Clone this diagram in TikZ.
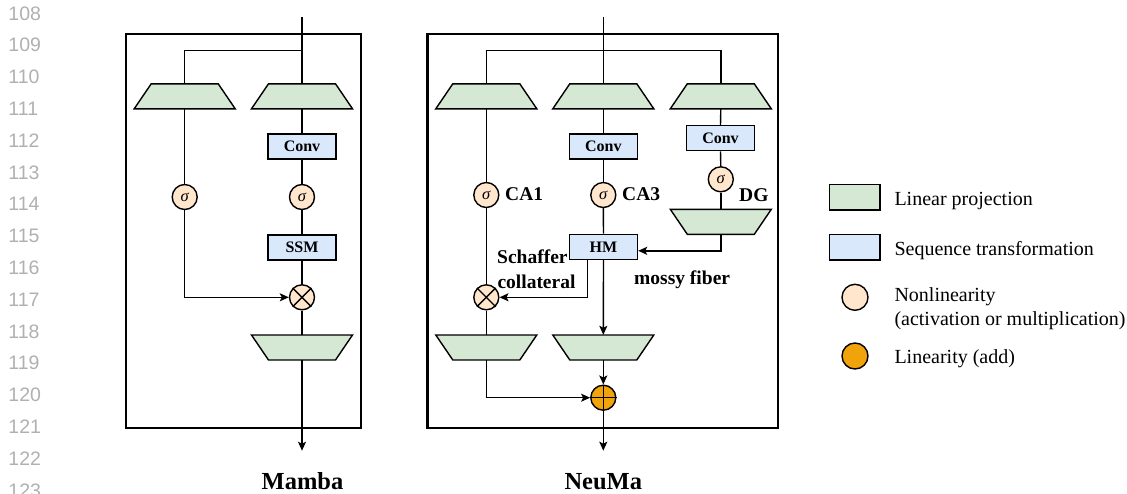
\documentclass[tikz,border=0pt]{standalone}
\usepackage{fontspec}
\setmainfont{Liberation Serif}
\newfontfamily\numfont{Liberation Sans}
\usetikzlibrary{arrows.meta,calc}
\definecolor{lingreen}{HTML}{D5E8D4}
\definecolor{seqblue}{HTML}{DAE8FC}
\definecolor{nlpeach}{HTML}{FFE6CC}
\definecolor{addorange}{HTML}{F0A30A}
\definecolor{numgray}{HTML}{B0B0B0}
\tikzset{
  ln/.style={line width=1.4pt},
  arr/.style={line width=1.4pt,-{Stealth[length=9pt,width=8pt,inset=2pt]}},
  frame/.style={line width=2.6pt},
  trap/.style={fill=lingreen,draw=black,line width=1.4pt,line join=miter},
  anchorbox/.style={rectangle,draw=none,minimum width=67pt,minimum height=25pt,inner sep=0pt},
  sbox/.style={rectangle,draw,fill=seqblue,line width=1.4pt,minimum width=68pt,minimum height=25pt,inner sep=0pt,font=\bfseries\fontsize{16}{16}\selectfont},
  nl/.style={circle,draw,fill=nlpeach,line width=1.4pt,minimum size=25pt,inner sep=0pt,font=\itshape\fontsize{16.5}{16.5}\selectfont},
  addc/.style={circle,draw,fill=addorange,line width=1.4pt,minimum size=25pt,inner sep=0pt},
  lbl/.style={inner sep=0pt,font=\bfseries\fontsize{19.5}{22}\selectfont},
  title/.style={inner sep=0pt,font=\bfseries\fontsize{24.5}{28}\selectfont},
  legtxt/.style={inner sep=0pt,anchor=base west,font=\fontsize{20}{24}\selectfont},
  linenum/.style={inner sep=0pt,anchor=base west,text=numgray,font=\numfont\fontsize{19.5}{22}\selectfont},
}
% wide-bottom trapezoid: name, x, y
\newcommand{\trapup}[3]{%
  \filldraw[trap] (#2-33.5,#3-12.5) -- (#2+33.5,#3-12.5) -- (#2+50.5,#3+12.5) -- (#2-50.5,#3+12.5) -- cycle;
  \node[anchorbox] (#1) at (#2,#3) {};}
% wide-top trapezoid
\newcommand{\trapdown}[3]{%
  \filldraw[trap] (#2-50.5,#3-12.5) -- (#2+50.5,#3-12.5) -- (#2+33.5,#3+12.5) -- (#2-33.5,#3+12.5) -- cycle;
  \node[anchorbox] (#1) at (#2,#3) {};}
\begin{document}
\begin{tikzpicture}[x=1pt,y=-1pt]
\useasboundingbox (0,0) rectangle (1127,493);
\clip (0,0) rectangle (1127,493);

% line numbers
\foreach \i [count=\k from 0] in {108,...,123}{
  \node[linenum] (num\i) at (8.3,20+31.8*\k) {\i};
}

% ---------------- Mamba ----------------
\draw[frame] (126,34) rectangle (361,428);
\coordinate (mIn) at (302,17);
\coordinate (mSplit) at (302,50.7);
\coordinate (mOut) at (302,450.7);
\trapup{mTL}{184.7}{96.3}
\trapup{mTR}{302}{96.3}
\node[sbox] (mConv) at (302,146.5) {Conv};
\node[nl] (mS1) at (184.7,197) {σ};
\node[nl] (mS2) at (302,197) {σ};
\node[sbox] (mSSM) at (302,247.5) {SSM};
\node[nl] (mOt) at (302,297.3) {};
\draw[ln] (mOt.north east) -- (mOt.south west) (mOt.north west) -- (mOt.south east);
\trapdown{mTB}{302}{347.5}

\draw[ln] (mIn) -- (mTR.north);
\draw[ln] (mSplit) -| (mTL.north);
\draw[ln] (mTR.south) -- (mConv.north);
\draw[ln] (mConv.south) -- (mS2.north);
\draw[ln] (mS2.south) -- (mSSM.north);
\draw[ln] (mSSM.south) -- (mOt.north);
\draw[ln] (mOt.south) -- (mTB.north);
\draw[arr] (mTB.south) -- (mOut);
\draw[ln] (mTL.south) -- (mS1.north);
\draw[arr] (mS1.south) |- (mOt.west);

\node[title,anchor=base] (mTitle) at (302.5,489.5) {Mamba};

% ---------------- NeuMa ----------------
\draw[frame] (427.5,34) rectangle (778,428);
\coordinate (nIn) at (603.3,17);
\coordinate (nSplit) at (603.3,50.7);
\coordinate (nOut) at (603.3,450.7);
\trapup{nTL}{486.3}{96.3}
\trapup{nTM}{603.3}{96.3}
\trapup{nTR}{720.8}{96.3}
\node[sbox] (nConv1) at (603.3,146.5) {Conv};
\node[sbox] (nConv2) at (720.5,138.2) {Conv};
\node[nl] (nS1) at (486.3,195) {σ};
\node[nl] (nS2) at (603.3,195) {σ};
\node[nl] (nS3) at (720.8,179.3) {σ};
\trapdown{nTD}{720.8}{221.8}
\node[sbox] (nHM) at (603.5,246.8) {HM};
\node[nl] (nOt) at (486.3,297.3) {};
\draw[ln] (nOt.north east) -- (nOt.south west) (nOt.north west) -- (nOt.south east);
\trapdown{nTBL}{486.3}{347.5}
\trapdown{nTBM}{603.3}{347.5}
\node[addc] (nOp) at (603.3,397.7) {};
\draw[ln] (nOp.north) -- (nOp.south) (nOp.west) -- (nOp.east);

\draw[ln] (nIn) -- (nTM.north);
\draw[ln] (nTL.north) |- (nSplit) -| (nTR.north);
\draw[ln] (nTM.south) -- (nConv1.north);
\draw[ln] (nConv1.south) -- (nS2.north);
\draw[ln] (nS2.south) -- (nHM.north);
\draw[arr] (nHM.south) -- (nTBM.north);
\draw[arr] (nTBM.south) -- (nOp.north);
\draw[arr] (nOp.south) -- (nOut);
\draw[ln] (nTL.south) -- (nS1.north);
\draw[ln] (nS1.south) -- (nOt.north);
\draw[ln] (nOt.south) -- (nTBL.north);
\draw[arr] (nTBL.south) |- (nOp.west);
\draw[ln] (nTR.south) -- (nConv2.north);
\draw[ln] (nConv2.south) -- (nS3.north);
\draw[ln] (nS3.south) -- (nTD.north);
\draw[arr] (nTD.south) |- ([yshift=-4pt]nHM.east);
\draw[arr] ([xshift=-16.2pt]nHM.south) |- (nOt.east);

\node[lbl,anchor=base west] (lCA1) at (505,200.7) {CA1};
\node[lbl,anchor=base west] (lCA3) at (622,200.7) {CA3};
\node[lbl,anchor=base west] (lDG) at (739,201) {DG};
\node[lbl,anchor=base west] (lSch) at (497,263.3) {Schaffer};
\node[lbl,anchor=base west] (lCol) at (497.3,288.3) {collateral};
\node[lbl,anchor=base west] (lMos) at (634,284.3) {mossy fiber};

\node[title,anchor=base] (nTitle) at (603.3,489.5) {NeuMa};

% ---------------- Legend ----------------
\node[rectangle,draw,fill=lingreen,line width=1.4pt,minimum width=50.7pt,minimum height=25.7pt,inner sep=0pt] (lgG) at (854.7,197.2) {};
\node[rectangle,draw,fill=seqblue,line width=1.4pt,minimum width=50.7pt,minimum height=25.7pt,inner sep=0pt] (lgB) at (854.7,247.2) {};
\node[circle,draw,fill=nlpeach,line width=1.4pt,minimum size=26pt,inner sep=0pt] (lgN) at (855,297.3) {};
\node[circle,draw,fill=addorange,line width=1.4pt,minimum size=26pt,inner sep=0pt] (lgL) at (855,356) {};
\node[legtxt] (tG) at (894.3,205) {Linear projection};
\node[legtxt] (tB) at (894.3,255) {Sequence transformation};
\node[legtxt] (tN1) at (894.3,301) {Nonlinearity};
\node[legtxt] (tN2) at (894.3,325) {(activation or multiplication)};
\node[legtxt] (tL) at (894.3,363.3) {Linearity (add)};
\end{tikzpicture}
\end{document}
